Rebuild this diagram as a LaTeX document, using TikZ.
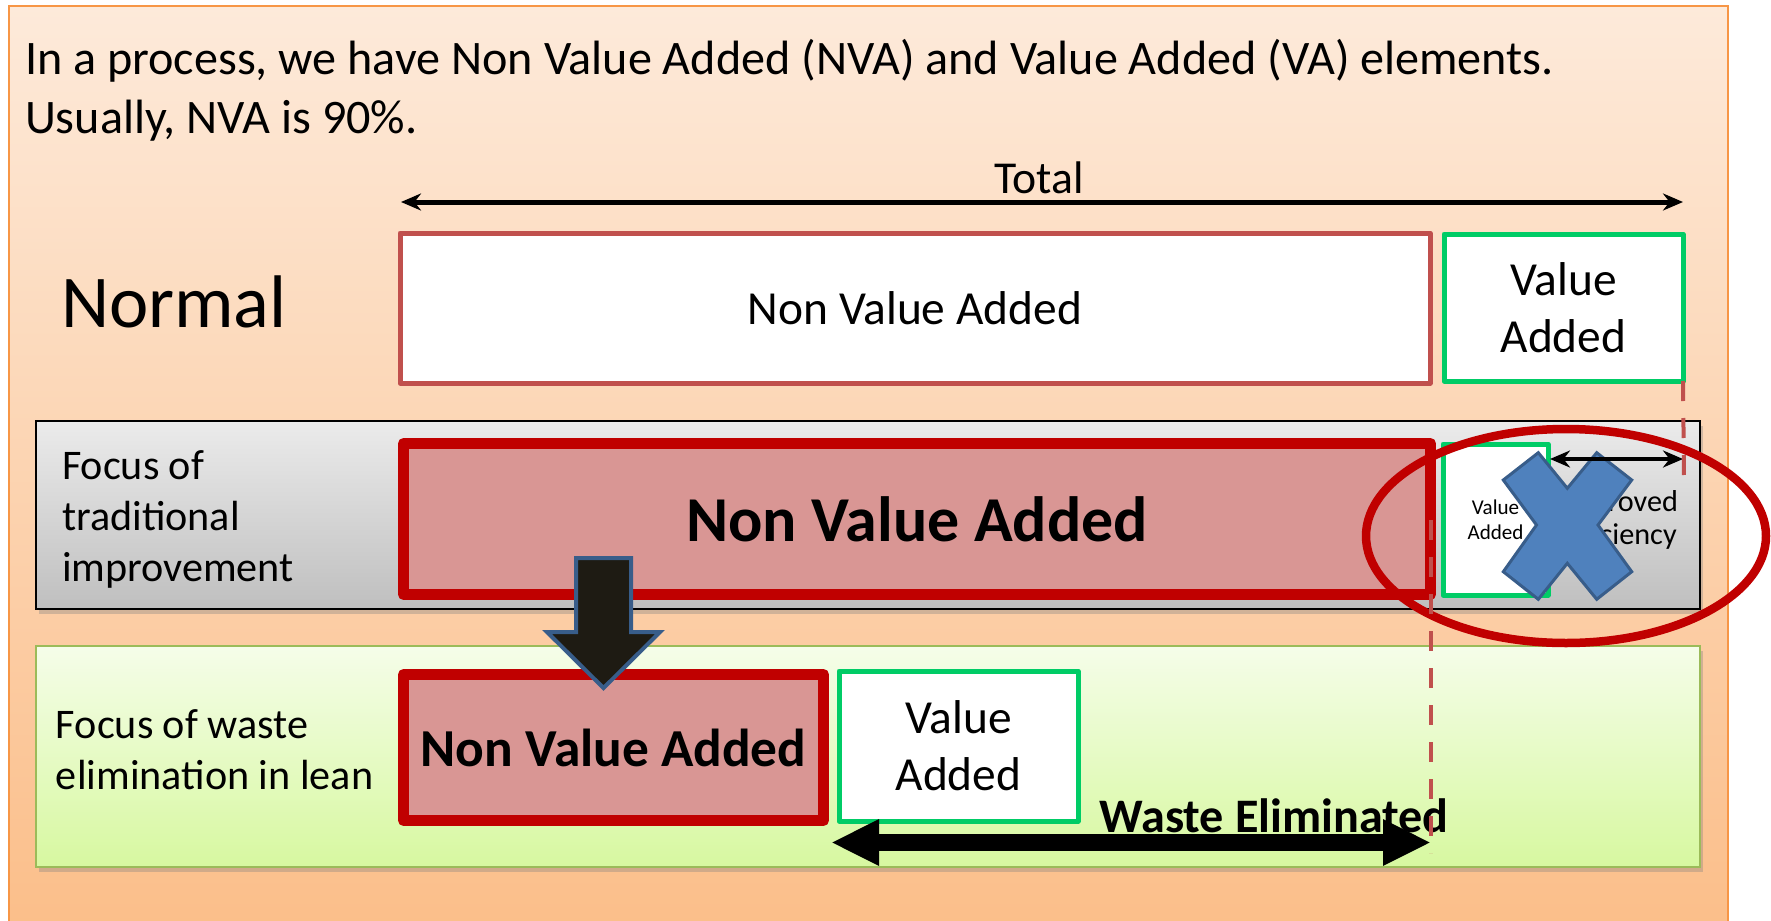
\documentclass[tikz,border=0pt]{standalone}
\usepackage{fontspec}
\setmainfont{Carlito}
\usetikzlibrary{arrows.meta,shadows,positioning}

\definecolor{panelTop}{HTML}{FDEADA}
\definecolor{panelBot}{HTML}{FBBE89}
\definecolor{panelEdge}{HTML}{F79646}
\definecolor{nvaEdge}{HTML}{C0504D}
\definecolor{nvaDark}{HTML}{C00000}
\definecolor{nvaFill}{HTML}{D99694}
\definecolor{vaEdge}{HTML}{00CC66}
\definecolor{grayTop}{HTML}{EBEBEB}
\definecolor{grayBot}{HTML}{BFBFBF}
\definecolor{leanTop}{HTML}{F5FDE9}
\definecolor{leanBot}{HTML}{D7F8A0}
\definecolor{leanEdge}{HTML}{9BBB59}
\definecolor{crossFill}{HTML}{4F81BD}
\definecolor{crossEdge}{HTML}{385D8A}
\definecolor{pushFill}{HTML}{1E1B13}

\begin{document}
\begin{tikzpicture}[x=0.1mm, y=-0.1mm,
tight/.style = {inner sep=0pt, outer sep=0pt},
nvabox/.style = {tight, rectangle, draw=nvaEdge, line width=0.5mm, fill=white, line join=round,
                 font=\fontsize{13.5}{16.2}\selectfont},
vabox/.style = {tight, rectangle, draw=vaEdge, line width=0.5mm, fill=white, align=center,
                line join=round, font=\fontsize{13.5}{16.2}\selectfont},
nvabig/.style = {tight, rectangle, draw=nvaDark, line width=1.1mm, fill=nvaFill, line join=round},
band/.style = {tight, rectangle, line width=0.2mm,
               drop shadow={shadow xshift=0.3mm, shadow yshift=-0.5mm, opacity=0.35}},
rowtext/.style = {tight, align=left, anchor=west, font=\fontsize{12}{14.5}\selectfont},
headtext/.style = {tight, anchor=base west, font=\fontsize{13.7}{16}\selectfont},
dimline/.style = {draw, line width=0.5mm,
                  {Stealth[length=2mm,width=1.7mm]}-{Stealth[length=2mm,width=1.7mm]}},
dashline/.style = {draw=nvaEdge, line width=0.4mm, dash pattern=on 2mm off 1.7mm}]

\useasboundingbox (0,0) rectangle (1771,920);
\shade[top color=panelTop, bottom color=panelBot, draw=panelEdge, line width=0.15mm]
  (9,6) rectangle (1728,935);

% heading
\node[headtext] (title1) at (25,75) {In a process, we have Non Value Added (NVA) and Value Added (VA) elements.};
\node[headtext] (title2) at (25,133) {Usually, NVA is 90\%.};

% normal
\node[tight, anchor=base, font=\fontsize{13}{15}\selectfont] (totT) at (1039,193) {Total};
\coordinate (totL) at (401,202);
\coordinate (totR) at (1683,202);
\node[tight, anchor=base west, font=\fontsize{21.2}{24}\selectfont] (normT) at (61,327) {Normal};
\node[nvabox, minimum width=103mm, minimum height=15mm] (nvaN) at (915,308) {Non Value Added};
\node[vabox, minimum width=23.9mm, minimum height=14.7mm] (vaN) at (1563.5,307.5) {Value\\Added};

% traditional
\node[band, draw=black, top color=grayTop, bottom color=grayBot,
      minimum width=166.4mm, minimum height=18.8mm] (trad) at (868,515) {};
\node[rowtext] (tradT) at (62,519) {Focus of\\traditional\\improvement};
\node[nvabig, minimum width=102.7mm, minimum height=15.1mm,
      font=\bfseries\fontsize{18.2}{21}\selectfont] (nvaT) at (917,519) {Non Value Added};
\node[vabox, minimum width=10.5mm, minimum height=15.1mm,
      font=\fontsize{6}{7.1}\selectfont] (vaT) at (1495.5,519.5) {Value\\Added};
\node[tight, align=center, font=\fontsize{8.6}{9.6}\selectfont] (effT) at (1619,520) {Improved\\Efficiency};
\coordinate (effL) at (1550,459);
\coordinate (effR) at (1683,459);
\filldraw[fill=crossFill, draw=crossEdge, line width=0.3mm]
  (1503.3,480) -- (1538.3,452.7) -- (1567.3,488.3) -- (1596.7,452.7) -- (1631.7,480)
  -- (1598,525) -- (1631.7,571.7) -- (1596.7,599.3) -- (1567.3,563.3)
  -- (1538.3,599.3) -- (1503.3,571.7) -- (1536.5,525) -- cycle;

% lean
\node[band, draw=leanEdge, top color=leanTop, bottom color=leanBot,
      minimum width=166.4mm, minimum height=22.1mm] (lean) at (868,756.5) {};
\node[rowtext] (leanT) at (56,750) {Focus of waste\\elimination in lean};
\node[nvabig, minimum width=42mm, minimum height=14.6mm,
      font=\bfseries\fontsize{15.2}{17}\selectfont] (nvaL) at (613.5,747.5) {Non Value Added};
\node[vabox, minimum width=23.9mm, minimum height=15mm] (vaL) at (958.5,746) {Value\\Added};
\node[tight, anchor=base, font=\bfseries\fontsize{13.7}{16}\selectfont] (wasteT) at (1274,832) {Waste Eliminated};
\coordinate (wasteL) at (831,842.5);
\coordinate (wasteR) at (1431,842.5);

\filldraw[fill=pushFill, draw=crossEdge, line width=0.4mm]
  (576,558) -- (631,558) -- (631,632) -- (660,632) -- (603.5,688) -- (547,632) -- (576,632) -- cycle;

\draw[nvaDark, line width=0.85mm] (1566,536) ellipse [x radius=20mm, y radius=10.7mm];

\begin{scope}[every path/.style=dimline]
\path (totL) -- (totR);
\path[line width=0.35mm] (effL) -- (effR);
\end{scope}
\path[draw, line width=1.7mm, {Triangle[length=4.8mm,width=4.3mm]}-{Triangle[length=4.8mm,width=4.3mm]}]
  (wasteL) -- (wasteR);

\coordinate (cutR) at (1684,478);
\coordinate (cutT) at (1431,520);
\coordinate (cutB) at (1431,853);
\path[dashline] (vaN.south east) -- (cutR);
\path[dashline] (cutT) -- (cutB);
\end{tikzpicture}
\end{document}
